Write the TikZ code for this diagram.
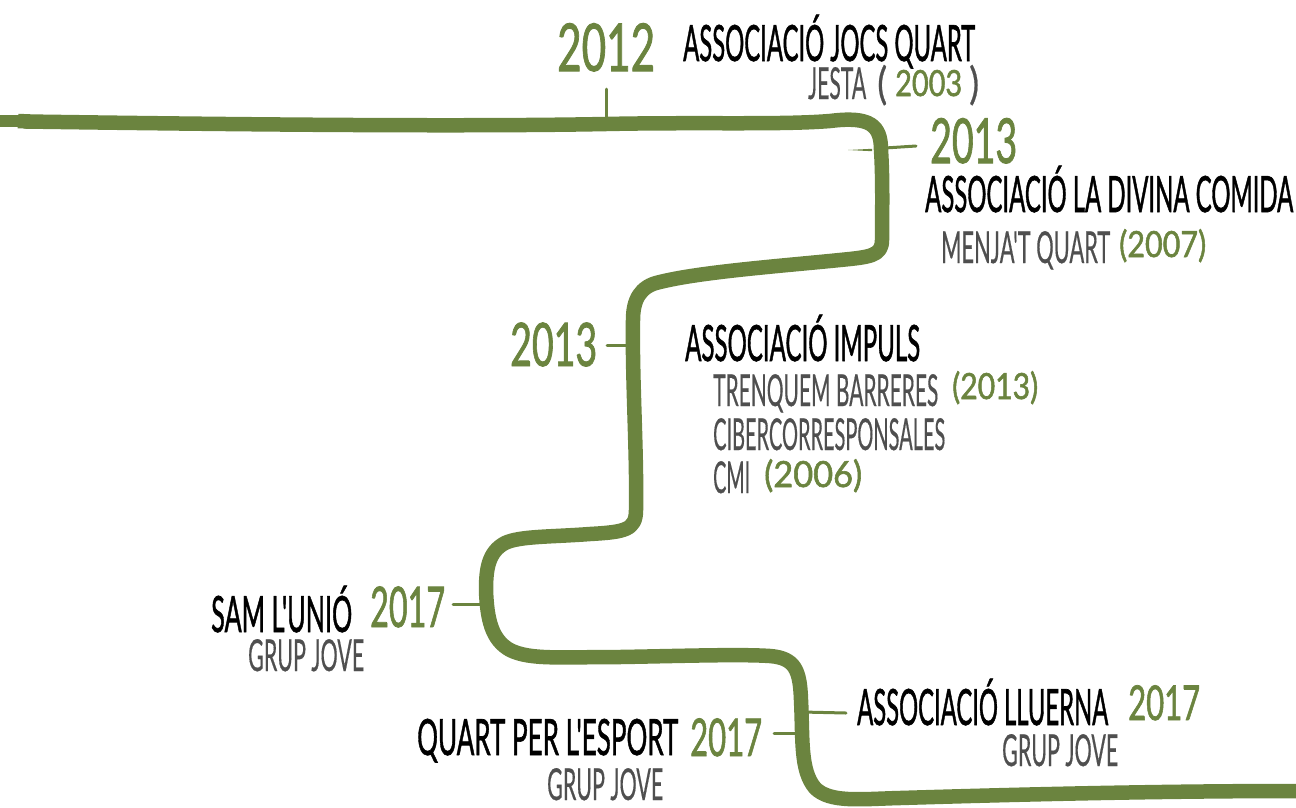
\documentclass[tikz,border=0pt]{standalone}
\usepackage{fontspec}
\setmainfont{Lato}
\newfontfamily\yrfont[FakeBold=1.6]{Lato}
\newfontfamily\lblfont[FakeBold=1.4]{Lato}
\newfontfamily\subfont[FakeBold=0.6]{Lato}
\definecolor{grn}{HTML}{6B843F}
\definecolor{gry}{HTML}{4F4F4F}
\newcommand{\fitw}[2]{\resizebox{#1pt}{\height}{#2}}
\tikzset{x=1pt,y=-1pt,
 route/.style={draw=grn,line width=14.5pt,line cap=round,line join=round},
 tick/.style={draw=grn,line width=3pt,line cap=round},
 lbl/.style={inner sep=0pt,anchor=base west,font=\lblfont\fontsize{50}{50}\selectfont,text=black},
 sub/.style={inner sep=0pt,anchor=base west,font=\subfont\fontsize{44}{44}\selectfont,text=gry},
 yr/.style={inner sep=0pt,anchor=base west,font=\yrfont\fontsize{#1}{#1}\selectfont,text=grn},
 yrs/.style={inner sep=0pt,anchor=base west,font=\yrfont\fontsize{36}{36}\selectfont,text=grn}}
\begin{document}
\begin{tikzpicture}
\useasboundingbox (0,0) rectangle (1296,807);
\draw[route] (26,121.5) .. controls (200,124) and (450,127) .. (606,124)
 .. controls (700,122) and (780,125) .. (830,121) .. controls (870,116) and (881,125) .. (881,150)
 .. controls (883,180) and (882,220) .. (882,240) .. controls (882,256) and (870,257) .. (840,260)
 .. controls (780,266) and (700,272) .. (660,282) .. controls (640,286) and (633,300) .. (633,320)
 .. controls (632,380) and (637,450) .. (636,510) .. controls (636,530) and (625,532) .. (590,534)
 .. controls (550,537) and (520,536) .. (505,543) .. controls (488,552) and (486,570) .. (486,590)
 .. controls (487,620) and (492,640) .. (510,650) .. controls (530,660) and (560,657) .. (620,657)
 .. controls (680,656) and (740,654) .. (770,656) .. controls (795,658) and (800,670) .. (801,700)
 .. controls (803,740) and (800,770) .. (815,788) .. controls (830,803) and (860,799) .. (900,798)
 .. controls (1000,795) and (1150,791) .. (1296,791);
\coordinate (s0) at (0,121); \coordinate (s1) at (18,121); \coordinate (s2) at (30,121.5);
\draw[draw=grn,line width=12pt] (s0) -- (s1);
\draw[draw=grn,line width=14.5pt] (s1) -- (s2);
\fill[grn] (848,150) -- (872,148.8) -- (872,151.2) -- cycle;
\coordinate (t1) at (606,122); \coordinate (t1e) at (606,89);
\coordinate (t2) at (885,148); \coordinate (t2e) at (916,146);
\coordinate (t3) at (632,345); \coordinate (t3e) at (607,345);
\coordinate (t4) at (486,604); \coordinate (t4e) at (453,604);
\coordinate (t5) at (802,712); \coordinate (t5e) at (846,713);
\coordinate (t6) at (801,733); \coordinate (t6e) at (774,733);
\draw[tick] (t1) -- (t1e); \draw[tick] (t2) -- (t2e); \draw[tick] (t3) -- (t3e);
\draw[tick] (t4) -- (t4e); \draw[tick] (t5) -- (t5e); \draw[tick] (t6) -- (t6e);
\node[yr=66] (a) at (557,71) {\fitw{98}{2012}};
\node[lbl] (b) at (683,61) {\fitw{292}{ASSOCIACIÓ JOCS QUART}};
\node[sub] (c) at (808,99) {\fitw{58}{JESTA}};
\node[sub] (c1) at (877,99) {\fitw{10}{(}};
\node[yrs] (c2) at (895,96) {\fitw{67}{2003}};
\node[sub] (c3) at (969,99) {\fitw{10}{)}};
\node[yr=62] (d) at (930,163) {\fitw{87}{2013}};
\node[lbl] (e) at (925,212) {\fitw{368}{ASSOCIACIÓ LA DIVINA COMIDA}};
\node[sub] (f) at (941,263) {\fitw{169}{MENJA'T QUART}};
\node[yrs] (f1) at (1119,257) {\fitw{87}{(2007)}};
\node[yr=60] (g) at (510,366) {\fitw{87}{2013}};
\node[lbl] (h) at (685,361) {\fitw{235}{ASSOCIACIÓ IMPULS}};
\node[sub] (i) at (713,406) {\fitw{225}{TRENQUEM BARRERES}};
\node[yrs] (i1) at (952,399) {\fitw{86}{(2013)}};
\node[sub] (j) at (713,450) {\fitw{232}{CIBERCORRESPONSALES}};
\node[sub] (k) at (713,493) {\fitw{37}{CMI}};
\node[yrs] (k1) at (764,487) {\fitw{98}{(2006)}};
\node[lbl] (l) at (211,632) {\fitw{141}{SAM L'UNIÓ}};
\node[yr=56] (m) at (370,627) {\fitw{75}{2017}};
\node[sub] (n) at (248,671) {\fitw{116}{GRUP JOVE}};
\node[lbl] (o) at (857,725) {\fitw{251}{ASSOCIACIÓ LLUERNA}};
\node[yr=48] (q) at (1128,720) {\fitw{72}{2017}};
\node[sub] (r) at (1002,766) {\fitw{116}{GRUP JOVE}};
\node[lbl] (s) at (417,755) {\fitw{261}{QUART PER L'ESPORT}};
\node[yr=52] (u) at (690,756) {\fitw{72}{2017}};
\node[sub] (v) at (547,800) {\fitw{116}{GRUP JOVE}};
\end{tikzpicture}
\end{document}
